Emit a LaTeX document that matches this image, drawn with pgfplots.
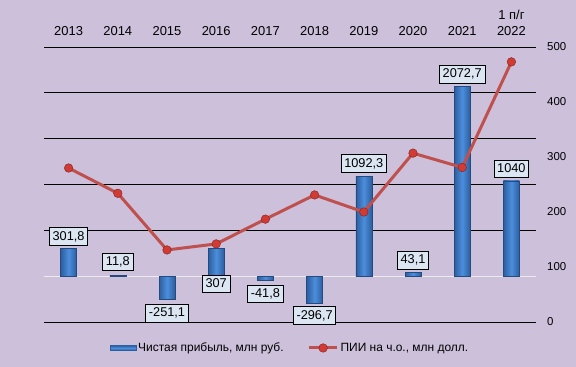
\documentclass[border=0pt]{standalone}
\usepackage{fontspec}
\setmainfont{Liberation Sans}
\usepackage{pgfplots}
\usepackage{pgfplotstable}
\pgfplotsset{compat=1.18}
\definecolor{bg}{HTML}{CCC0DA}
\definecolor{barmid}{HTML}{4C8EDC}
\definecolor{baredge}{HTML}{2C5E9F}
\definecolor{lblfill}{HTML}{DCE6F2}
\definecolor{linered}{HTML}{C0504D}
\definecolor{ballred}{HTML}{D23A34}
\pgfplotsset{
 linelegend/.style={legend image code/.code={\draw[mark repeat=2,mark phase=2,##1] plot coordinates {(0bp,0bp)(14bp,0bp)(28bp,0bp)};}},
 barlegend/.style={legend image code/.code={\draw[draw=baredge, top color=baredge, bottom color=baredge, middle color=barmid] (0bp,-2.5bp) rectangle (26bp,2.5bp);}},
}

\pgfplotstableread{
x y lbl dy
0 301.8 301,8 12
1 11.8 11,8 13
2 -251.1 -251,1 -14
3 307 307 -36
4 -41.8 -41,8 -14
5 -296.7 -296,7 -12
6 1092.3 1092,3 12.7
7 43.1 43,1 12
8 2072.7 2072,7 12
9 1040 1040 12
}\profit

\pgfplotstableread{
x y
0 280
1 234
2 131
3 142
4 187
5 231
6 200
7 307
8 281
9 473
}\fdi

\begin{document}
\begin{tikzpicture}[font=\fontsize{12}{14}\selectfont]
\fill[bg] (0,0) rectangle (576bp,367bp);
\useasboundingbox (0,0) rectangle (576bp,367bp);
\begin{axis}[
 at={(44bp,45bp)}, anchor=south west,
 scale only axis, width=492bp, height=275bp,
 xmin=-0.5, xmax=9.5, ymin=-500, ymax=2500,
 axis line style={draw=none},
 xtick={0,...,9},
 xticklabels={2013,2014,2015,2016,2017,2018,2019,2020,2021,{1 п/г\\2022}},
 xticklabel pos=right,
 xticklabel style={align=center, anchor=south, inner sep=0pt, yshift=11bp, font=\fontsize{13}{16}\selectfont},
 ytick={-500,500,1000,1500,2000,2500},
 yticklabels={},
 ymajorgrids,
 grid style={black, line width=0.8bp},
 extra y ticks={0},
 extra y tick labels={},
 extra y tick style={grid style={white!85!gray, line width=0.8bp}},
 major tick length=0pt,
 tick style={draw=none},
 clip=false,
]
\pgfplotsinvokeforeach{0,...,9}{
\addplot[ybar, bar width=16bp, draw=baredge!80!black, line width=0.3bp,
 left color=baredge, right color=baredge, middle color=barmid,
 x filter/.expression={abs(x-#1)<0.1 ? x : nan},
 point meta=explicit symbolic,
 visualization depends on={\thisrow{dy} \as \dy},
 nodes near coords={\pgfplotspointmeta},
 every node near coord/.append style={anchor=center, yshift=\dy bp, draw=black, fill=lblfill, inner xsep=3.2bp, inner ysep=3bp, text height=9.5bp, text depth=2bp, text=black, line width=0.8bp, font=\fontsize{12.8}{14}\selectfont},
] table[x=x, y=y, meta=lbl] {\profit};
}
\end{axis}
\begin{axis}[
 at={(44bp,45bp)}, anchor=south west,
 scale only axis, width=492bp, height=275bp,
 xmin=-0.5, xmax=9.5, ymin=0, ymax=500,
 axis line style={draw=none},
 xtick=\empty,
 ytick={0,100,...,500},
 yticklabel pos=right,
 yticklabel style={anchor=west, inner sep=0pt, xshift=11bp, font=\fontsize{11.5}{14}\selectfont},
 /pgf/number format/assume math mode=true,
 major tick length=0pt, tick style={draw=none},
 clip=false,
 legend columns=2,
 legend cell align=left,
 legend style={draw=none, fill=none, at={(axis description cs:0.5,-0.0945)}, anchor=center,
   /tikz/every even column/.append style={column sep=22bp}},
]
\addlegendimage{barlegend}
\addlegendentry{Чистая прибыль, млн руб.}
\addplot[linered, line width=3bp, mark=*, mark size=4.3bp, mark options={fill=ballred, draw=ballred!60!black, line width=0.4bp}, linelegend] table[x=x, y=y] {\fdi};
\addlegendentry{ПИИ на ч.о., млн долл.}
\end{axis}
\end{tikzpicture}
\end{document}
